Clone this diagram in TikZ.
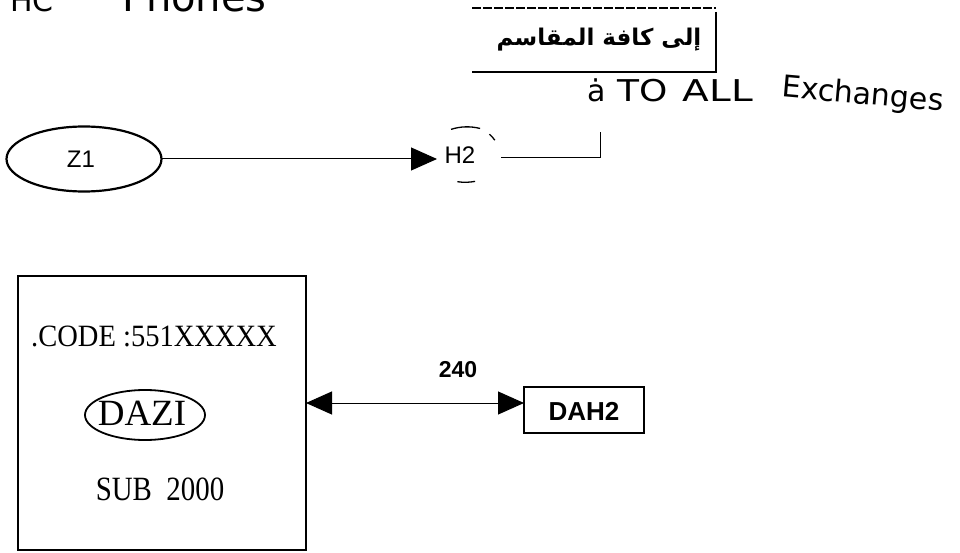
\documentclass[tikz,border=0pt]{standalone}
\usepackage{fontspec}
\setmainfont{Liberation Serif}
\newfontfamily\sansf{Liberation Sans}
\newfontfamily\handf{DejaVu Sans}
\newfontfamily\arabicfont[Script=Arabic]{DejaVu Sans}
\TeXXeTstate=1
\usetikzlibrary{arrows.meta,shapes.geometric}
\tikzset{bigtip/.tip={Triangle[length=26pt,width=23pt]}}
\begin{document}
\begin{tikzpicture}[x=1pt,y=-1pt,
  every node/.style={inner sep=0pt,outer sep=0pt},
  thinline/.style={draw=black,line width=1pt},
  boxline/.style={draw=black,line width=2.2pt},
  sanslbl/.style={font=\sansf\fontsize{24}{24}\selectfont},
  boldlbl/.style={font=\sansf\bfseries\fontsize{26}{26}\selectfont},
  seriflbl/.style={font=\fontsize{31}{31}\selectfont},
  handlbl/.style={font=\handf\fontsize{30}{30}\selectfont, anchor=base},
]
\useasboundingbox (0,0) rectangle (960,553);
\fill[white] (0,0) rectangle (960,553);

% top-left handwriting (mostly cut off)
\node[handlbl, anchor=base west] (hc) at (10,12) {HC};
\node[handlbl, anchor=base west, font=\handf\fontsize{40}{40}\selectfont] (ph) at (122,12) {Phones};

% Arabic box
\node[minimum width=244pt, minimum height=64pt] (arbox) at (594,40) {};
\node[font=\arabicfont\bfseries\fontsize{23}{23}\selectfont] (artext) at (599,40) {\beginR إلى كافة المقاسم\endR};
\draw[thinline, line width=1.6pt, dash pattern=on 9pt off 2pt] (arbox.north west) -- (arbox.north east);
\draw[thinline, line width=1.6pt] ([yshift=-4pt]arbox.north east) -- (arbox.south east) -- (arbox.south west);

% handwritten note
\node[handlbl] (wa) at (597,102) {ȧ};
\node[handlbl, xscale=1.2] (wto) at (643,102) {TO};
\node[handlbl, xscale=1.3] (wall) at (718,102) {ALL};
\node[handlbl, rotate=-5] (wex) at (862,104) {Exchanges};

% Z1 and H2
\node[ellipse, boxline, minimum width=155pt, minimum height=65pt] (z1) at (84,159) {};
\node[sanslbl] (z1t) at (81,159) {Z1};
\node[sanslbl] (h2) at (460,155) {H2};
\node[ellipse, minimum width=76pt, minimum height=54pt] (h2c) at (463,155) {};
\draw[thinline, line width=1.3pt] (h2c.115) arc[start angle=115, end angle=70, x radius=38pt, y radius=27pt];
\draw[thinline, line width=1.3pt] (h2c.258) arc[start angle=258, end angle=285, x radius=38pt, y radius=27pt];
\draw[thinline, line width=1.3pt] (h2c.25) arc[start angle=25, end angle=40, x radius=38pt, y radius=27pt];
\coordinate (tipend) at (437,159);
\draw[thinline, -{bigtip}] (z1.east) -- (tipend);
\coordinate (bend) at (600,158);
\coordinate (cend) at (600,132);
\draw[thinline] (h2c.east |- bend) -- (bend) -- (cend);

% bottom part
\node[rectangle, boxline, minimum width=288pt, minimum height=274pt] (big) at (162,413) {};
\node[seriflbl, xscale=0.92] (code) at (154,336) {.CODE :551XXXXX};
\node[ellipse, draw, line width=1.8pt, minimum width=120pt, minimum height=50pt] (dazi) at (145,415) {};
\node[font=\fontsize{37}{37}\selectfont] (dazit) at (142,413) {DAZI};
\node[seriflbl, font=\fontsize{34}{34}\selectfont, xscale=0.85] (sub) at (160,489) {SUB\ \ 2000};
\node[rectangle, boxline, minimum width=120pt, minimum height=46pt] (dah2) at (584,410) {};
\node[boldlbl] (dah2t) at (584,411) {DAH2};
\draw[thinline, {bigtip}-{bigtip}] (big.east |- 0,403) -- (dah2.west |- 0,403);
\node[boldlbl, font=\sansf\bfseries\fontsize{23}{23}\selectfont] (l240) at (458,370) {240};
\end{tikzpicture}
\end{document}
